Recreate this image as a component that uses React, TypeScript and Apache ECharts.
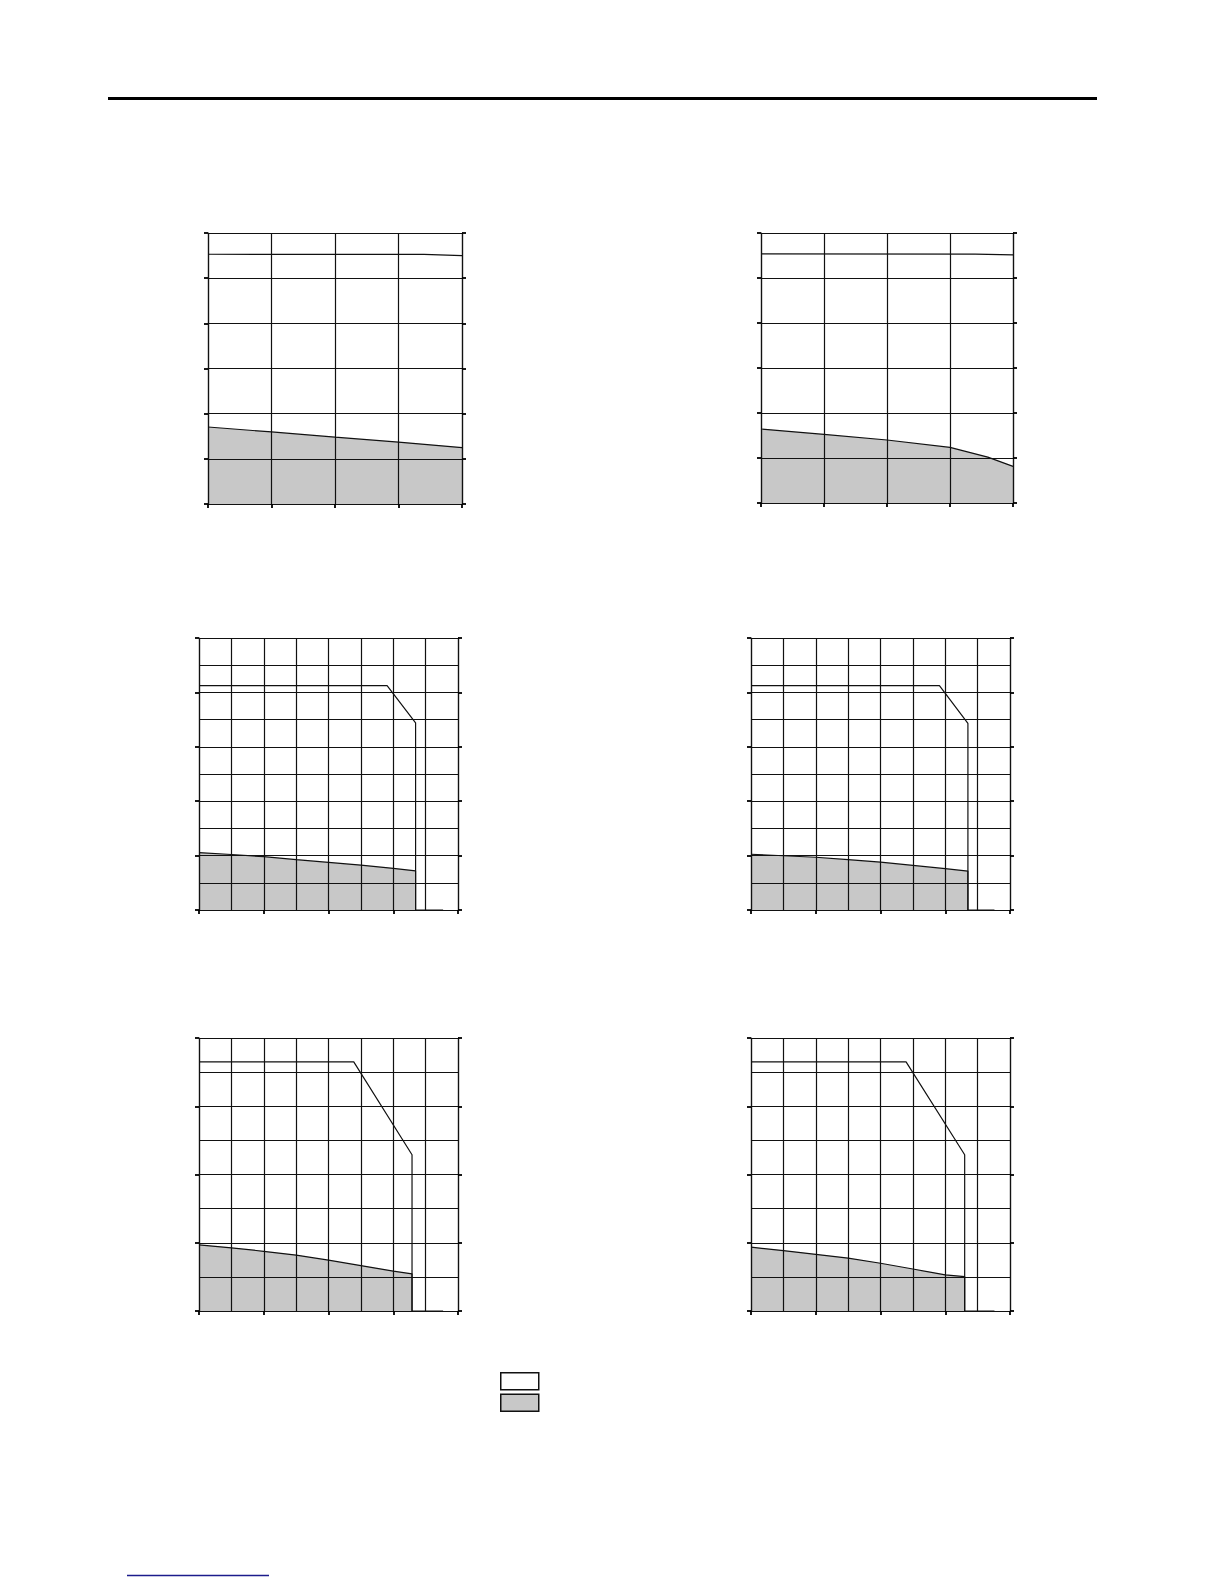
import { useEffect, useRef } from 'react';
import * as echarts from 'echarts';

// derating curves, [x, y] pairs
const c1Upper = [[0, 110.6], [34, 110.5], [40, 110.0]];
const c1Lower = [[0, 34.1], [10, 31.9], [20, 29.6], [30, 27.4], [40, 25.0]];
const c2Upper = [[0, 110.7], [34, 110.6], [40, 110.3]];
const c2Lower = [[0, 32.9], [10, 30.5], [20, 28.0], [30, 24.7], [36, 20.4], [40, 16.3]];
const c3Upper = [[0, 82.5], [58.1, 82.5], [66.9, 68.8], [66.9, 0], [75.4, 0]];
const c3Lower = [[0, 21.1], [10, 20.4], [20, 19.6], [30, 18.5], [40, 17.5], [50, 16.5], [60, 15.3], [66.9, 14.4], [66.9, 0]];
const c4Upper = [[0, 82.5], [58.2, 82.5], [67.0, 68.6], [67.0, 0], [75.2, 0]];
const c4Lower = [[0, 20.5], [20, 19.4], [30, 18.5], [40, 17.6], [50, 16.4], [60, 15.2], [67.0, 14.3], [67.0, 0]];
const c5Upper = [[0, 73.0], [47.8, 73.0], [65.8, 45.8], [65.8, 0], [75.4, 0]];
const c5Lower = [[0, 19.4], [10, 18.5], [20, 17.5], [30, 16.4], [40, 14.9], [50, 13.3], [60, 11.7], [65.8, 10.9], [65.8, 0]];
const c6Upper = [[0, 73.0], [47.9, 73.0], [66.0, 45.8], [66.0, 0], [75.2, 0]];
const c6Lower = [[0, 18.7], [10, 17.7], [20, 16.6], [30, 15.5], [40, 14.0], [50, 12.3], [60, 10.6], [66.0, 10.1], [66.0, 0]];

// axis ranges: [max, interval, minor splits]
const xRanges = [[40, 10, 1], [40, 10, 1], [80, 20, 2], [80, 20, 2], [80, 20, 2], [80, 20, 2]];
const yRanges = [[120, 20, 1], [120, 20, 1], [100, 20, 2], [100, 20, 2], [80, 20, 2], [80, 20, 2]];
const seriesNames = ['upper', 'lower'];

const uppers = [c1Upper, c2Upper, c3Upper, c4Upper, c5Upper, c6Upper];
const lowers = [c1Lower, c2Lower, c3Lower, c4Lower, c5Lower, c6Lower];

const grids = [
  { left: 208, top: 233, width: 254, height: 271 },
  { left: 761, top: 233, width: 252, height: 270 },
  { left: 199, top: 638, width: 259, height: 272 },
  { left: 751, top: 638, width: 259, height: 272 },
  { left: 199, top: 1038, width: 259, height: 273 },
  { left: 751, top: 1038, width: 259, height: 273 },
];

const black = { color: '#111', width: 1.2 };

function axis(i: number, range: number[], extra: any) {
  const [max, interval, minor] = range;
  return {
    type: 'value',
    gridIndex: i,
    min: 0,
    max,
    interval,
    axisLabel: { show: false },
    axisLine: { show: true, lineStyle: black },
    axisTick: { show: true, inside: false, length: 4, lineStyle: { color: '#000', width: 1.8 } },
    splitLine: { show: true, lineStyle: black },
    minorTick: { show: false, splitNumber: minor },
    minorSplitLine: { show: minor > 1, lineStyle: black },
    ...extra,
  };
}

export default function App() {
  const ref = useRef<HTMLDivElement>(null);

  useEffect(() => {
    if (!ref.current) return;
    const chart = echarts.init(ref.current, null, { renderer: 'svg' });

    const xAxis = grids.map((_, i) => axis(i, xRanges[i], { position: 'bottom' }));
    const yAxis: any[] = [];
    grids.forEach((_, i) => {
      yAxis.push(axis(i, yRanges[i], { position: 'left' }));
      yAxis.push(
        axis(i, yRanges[i], {
          position: 'right',
          splitLine: { show: false },
          minorSplitLine: { show: false },
        })
      );
    });

    const series: any[] = [];
    grids.forEach((_, i) => {
      series.push({
        name: seriesNames[1],
        type: 'line',
        xAxisIndex: i,
        yAxisIndex: i * 2,
        data: lowers[i],
        symbol: 'none',
        z: -1,
        lineStyle: black,
        itemStyle: { color: '#c8c8c8' },
        areaStyle: { color: '#c8c8c8', opacity: 1 },
      });
      series.push({
        name: seriesNames[0],
        type: 'line',
        xAxisIndex: i,
        yAxisIndex: i * 2,
        data: uppers[i],
        symbol: 'none',
        z: -1,
        lineStyle: black,
        itemStyle: { color: '#fff' },
      });
    });

    chart.setOption({
      animation: false,
      backgroundColor: '#fff',
      grid: grids.map((g) => ({ ...g, containLabel: false })),
      xAxis,
      yAxis,
      series,
      legend: {
        orient: 'vertical',
        left: 500,
        top: 1372,
        padding: 0,
        itemWidth: 38,
        itemHeight: 17,
        itemGap: 3,
        icon: 'rect',
        selectedMode: false,
        formatter: () => '',
        data: [
          { name: seriesNames[0], itemStyle: { color: '#fff', borderColor: '#111', borderWidth: 1.5 } },
          { name: seriesNames[1], itemStyle: { color: '#c8c8c8', borderColor: '#111', borderWidth: 1.5 } },
        ],
      },
      graphic: [
        { type: 'rect', shape: { x: 108, y: 97, width: 989, height: 3 }, style: { fill: '#000' } },
        { type: 'line', shape: { x1: 127, y1: 1575.5, x2: 269, y2: 1575.5 }, style: { stroke: '#1c1c8c', lineWidth: 1.5 } },
      ],
    });

    return () => {
      chart.dispose();
    };
  }, []);

  return (
    <div
      ref={ref}
      style={{ position: 'absolute', left: 0, top: 0, width: 1224, height: 1584, background: '#fff' }}
    />
  );
}
